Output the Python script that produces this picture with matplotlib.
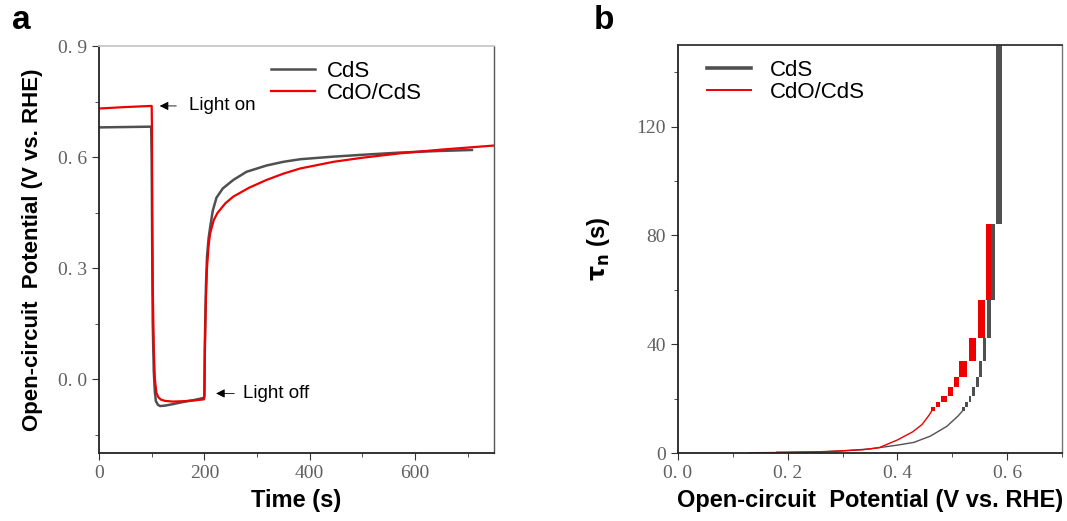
import matplotlib
matplotlib.use('Agg')
import matplotlib.pyplot as plt
from matplotlib.ticker import MultipleLocator

# ---- panel a: open-circuit potential decay ----
t_cds = [0, 50, 99, 100, 101, 102, 104, 106, 108, 112, 116, 125, 140, 160, 180, 199, 200,
         201, 203, 205, 208, 211, 216, 223, 235, 255, 280, 318, 350, 382, 445, 500, 572, 640, 708]
v_cds = [0.680, 0.681, 0.682, 0.60, 0.35, 0.15, 0.02, -0.035, -0.06, -0.07, -0.073, -0.072,
         -0.068, -0.062, -0.057, -0.051, -0.045, 0.10, 0.25, 0.33, 0.38, 0.41, 0.455, 0.49,
         0.515, 0.538, 0.56, 0.577, 0.587, 0.594, 0.601, 0.606, 0.612, 0.616, 0.619]

t_cdo = [0, 50, 99, 100, 100.5, 101, 102, 104, 106, 109, 113, 118, 125, 140, 160, 180, 199, 200,
         201, 203, 205, 208, 211, 218, 225, 240, 255, 285, 318, 350, 382, 445, 500, 572, 650, 750]
v_cdo = [0.731, 0.735, 0.738, 0.738, 0.68, 0.45, 0.25, 0.08, 0.0, -0.038, -0.05, -0.056,
         -0.059, -0.061, -0.060, -0.058, -0.055, -0.05, 0.08, 0.22, 0.30, 0.36, 0.394, 0.43,
         0.449, 0.475, 0.493, 0.517, 0.538, 0.555, 0.569, 0.587, 0.598, 0.61, 0.62, 0.631]

a_xticks = [0, 200, 400, 600]
a_xlabels = ['0', '200', '400', '600']
a_yticks = [0.0, 0.3, 0.6, 0.9]
a_ylabels = ['0. 0', '0. 3', '0. 6', '0. 9']

# ---- panel b: electron lifetime vs potential ----
# smooth low-lifetime parts
vb_cds = [0.18, 0.25, 0.30, 0.35, 0.40, 0.43, 0.46, 0.49, 0.51, 0.518]
tau_cds = [0.3, 0.4, 0.8, 1.5, 2.9, 3.9, 6.2, 9.8, 13.5, 15.3]
vb_cdo = [0.13, 0.20, 0.27, 0.30, 0.337, 0.367, 0.40, 0.428, 0.445, 0.458, 0.462]
tau_cdo = [0.1, 0.2, 0.5, 0.8, 1.2, 2.0, 4.8, 7.8, 10.5, 14.0, 15.3]

# stair blocks: potential range and lifetime range
cds_vlo = [0.5806, 0.570, 0.5636, 0.556, 0.549, 0.543, 0.536, 0.530, 0.524, 0.518]
cds_vhi = [0.5915, 0.578, 0.570, 0.562, 0.555, 0.548, 0.542, 0.535, 0.529, 0.523]
cds_tlo = [84.3, 56.2, 42.2, 33.7, 28.1, 24.1, 21.1, 18.7, 16.9, 15.3]
cds_thi = [168.6, 84.3, 56.2, 42.2, 33.7, 28.1, 24.1, 21.1, 18.7, 16.9]

cdo_vlo = [0.561, 0.546, 0.530, 0.513, 0.504, 0.4915, 0.479, 0.470, 0.462]
cdo_vhi = [0.5715, 0.560, 0.543, 0.527, 0.5115, 0.502, 0.490, 0.477, 0.468]
cdo_tlo = [56.2, 42.2, 33.7, 28.1, 24.1, 21.1, 18.7, 16.9, 15.3]
cdo_thi = [84.3, 56.2, 42.2, 33.7, 28.1, 24.1, 21.1, 18.7, 16.9]

b_xticks = [0.0, 0.2, 0.4, 0.6]
b_xlabels = ['0. 0', '0. 2', '0. 4', '0. 6']
b_yticks = [0, 40, 80, 120]
b_ylabels = ['0', '40', '80', '120']

GRAY = '#505050'
RED = '#ee0000'
TICKFONT = dict(family='Liberation Serif', size=14, color='#606060')
LABFONT = dict(family='Liberation Sans', weight='bold', size=17)
LEGFONT = dict(family='Liberation Sans', size=16)

fig = plt.figure(figsize=(10.67, 5.21), dpi=100)
ax1 = fig.add_axes([0.0928, 0.1305, 0.3702, 0.7812])
ax2 = fig.add_axes([0.6354, 0.1305, 0.3599, 0.7831])


def style(ax, top_c, right_c):
    for s in ['left', 'bottom']:
        ax.spines[s].set_color('#222222')
        ax.spines[s].set_linewidth(1.3)
    ax.spines['top'].set_color(top_c)
    ax.spines['right'].set_color(right_c)
    ax.spines['top'].set_linewidth(1.3)
    ax.spines['right'].set_linewidth(1.0)
    ax.tick_params(which='both', direction='out', color='#333333', top=False, right=False)
    ax.tick_params(which='major', length=5)
    ax.tick_params(which='minor', length=3)


# panel a
ax1.plot(t_cds, v_cds, color=GRAY, lw=1.8, label='CdS')
ax1.plot(t_cdo, v_cdo, color=RED, lw=1.6, label='CdO/CdS')
ax1.set_xlim(0, 750)
ax1.set_ylim(-0.2, 0.9)
ax1.set_xticks(a_xticks)
ax1.set_xticklabels(a_xlabels, fontdict=TICKFONT)
ax1.set_yticks(a_yticks)
ax1.set_yticklabels(a_ylabels, fontdict=TICKFONT)
ax1.xaxis.set_minor_locator(MultipleLocator(100))
ax1.yaxis.set_minor_locator(MultipleLocator(0.15))
style(ax1, '#c8c8c8', '#555555')
ax1.set_xlabel('Time (s)', fontdict=LABFONT, labelpad=5)
ax1.set_ylabel('Open-circuit  Potential (V vs. RHE)',
               fontdict=dict(LABFONT, size=16), labelpad=11)
ax1.annotate('', xy=(110, 0.738), xytext=(152, 0.738),
             arrowprops=dict(arrowstyle='-|>', color='black', lw=0.6, mutation_scale=13))
ax1.text(171, 0.738, 'Light on', fontsize=13.5, family='Liberation Sans', va='center')
ax1.annotate('', xy=(217, -0.039), xytext=(262, -0.039),
             arrowprops=dict(arrowstyle='-|>', color='black', lw=0.6, mutation_scale=13))
ax1.text(273, -0.039, 'Light off', fontsize=13.5, family='Liberation Sans', va='center')
ax1.legend(loc='upper left', bbox_to_anchor=(0.413, 0.985), frameon=False,
           prop=LEGFONT, handlelength=2.0, handletextpad=0.5,
           labelspacing=0.05, borderaxespad=0)

# panel b
ax2.plot(vb_cds, tau_cds, color=GRAY, lw=1.0)
ax2.plot(vb_cdo, tau_cdo, color=RED, lw=1.0)
ax2.bar([(lo + hi) / 2 for lo, hi in zip(cds_vlo, cds_vhi)],
        [hi - lo for lo, hi in zip(cds_tlo, cds_thi)],
        width=[hi - lo for lo, hi in zip(cds_vlo, cds_vhi)],
        bottom=cds_tlo, color=GRAY, linewidth=0)
ax2.bar([(lo + hi) / 2 for lo, hi in zip(cdo_vlo, cdo_vhi)],
        [hi - lo for lo, hi in zip(cdo_tlo, cdo_thi)],
        width=[hi - lo for lo, hi in zip(cdo_vlo, cdo_vhi)],
        bottom=cdo_tlo, color=RED, linewidth=0)
ax2.plot([], [], color=GRAY, lw=2.6, label='CdS')
ax2.plot([], [], color=RED, lw=1.4, label='CdO/CdS')
ax2.set_xlim(0, 0.7)
ax2.set_ylim(0, 150)
ax2.set_xticks(b_xticks)
ax2.set_xticklabels(b_xlabels, fontdict=TICKFONT)
ax2.set_yticks(b_yticks)
ax2.set_yticklabels(b_ylabels, fontdict=TICKFONT)
ax2.xaxis.set_minor_locator(MultipleLocator(0.1))
ax2.yaxis.set_minor_locator(MultipleLocator(20))
style(ax2, '#333333', '#777777')
ax2.set_xlabel('Open-circuit  Potential (V vs. RHE)', fontdict=LABFONT, labelpad=5)
ax2.set_ylabel(r'$\mathbf{\tau_n}$ (s)', fontdict=LABFONT, labelpad=18)
ax2.legend(loc='upper left', bbox_to_anchor=(0.052, 0.985), frameon=False,
           prop=LEGFONT, handlelength=2.0, handletextpad=0.85,
           labelspacing=0.05, borderaxespad=0)

fig.text(0.011, 0.945, 'a', fontsize=24, weight='bold', family='Liberation Sans')
fig.text(0.556, 0.945, 'b', fontsize=24, weight='bold', family='Liberation Sans')

fig.savefig('out.png', dpi=100)
